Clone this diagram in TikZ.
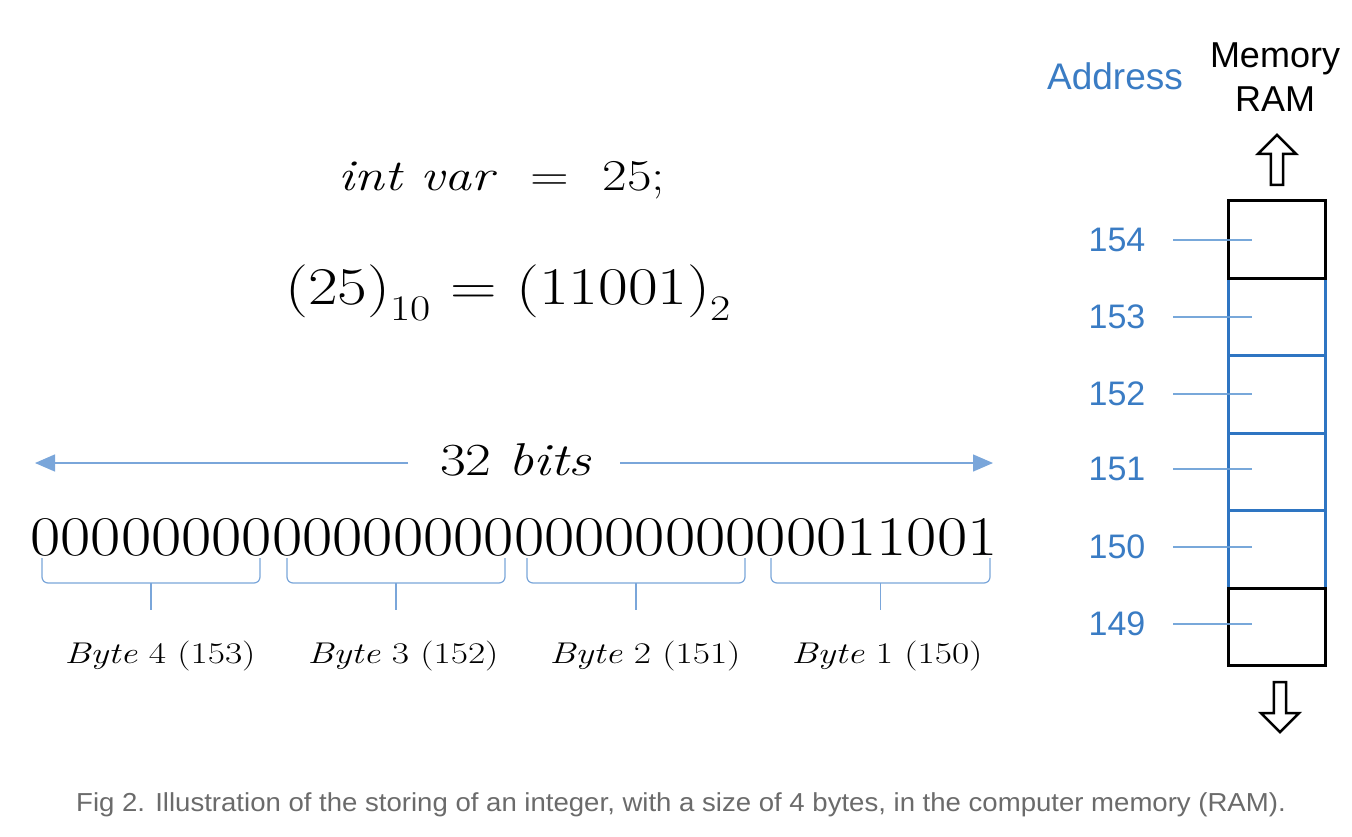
\documentclass[tikz,border=0pt]{standalone}
\usepackage{fontspec}
\setsansfont{Liberation Sans}
\usetikzlibrary{arrows.meta,shapes.arrows}
\definecolor{addrblue}{HTML}{3A7CC4}
\definecolor{tickblue}{HTML}{6A9FD6}
\definecolor{cellblue}{HTML}{2E75C2}
\definecolor{lightblue}{HTML}{7AA6DA}
\definecolor{capgray}{HTML}{6B6B6B}
\newcommand{\mysub}[1]{\raisebox{-0.3em}{\fontsize{36}{42}\selectfont #1}}
\newcommand{\wide}[1]{\scalebox{1.22}[1]{#1}}
\tikzset{
  addr/.style={text=addrblue,font=\sffamily\fontsize{34}{40}\selectfont,inner sep=0pt},
  hdr/.style={font=\sffamily\fontsize{36}{42}\selectfont,inner sep=0pt,align=center},
  tickline/.style={draw=tickblue,line width=2.2pt,opacity=0.9},
  bluecell/.style={draw=cellblue,line width=3pt,minimum width=97pt,minimum height=77.5pt,inner sep=0pt},
  blackcell/.style={draw=black,line width=3pt,minimum width=97pt,minimum height=77.5pt,inner sep=0pt},
  brc/.style={draw=lightblue,line width=1.2pt,rounded corners=6pt},
  bitsarrow/.style={draw=lightblue,line width=1.3pt,-{Triangle[length=20pt,width=17pt]}},
  hollow/.style={single arrow,draw=black,fill=white,line width=2.5pt,minimum height=50pt,minimum width=38pt,single arrow head extend=9pt,single arrow tip angle=90,inner sep=3pt},
  mathtxt/.style={inner sep=0pt}
}
\begin{document}
\begin{tikzpicture}[x=1pt,y=-1pt]
\useasboundingbox (0,0) rectangle (1352,836);
\fill[white] (0,0) rectangle (1352,836);

% headers
\node[addr,font=\sffamily\fontsize{37}{42}\selectfont] (addrhdr) at (1115,76) {Address};
\node[hdr] (memhdr) at (1275,77) {Memory\\[2pt]RAM};

% memory cells
\node[bluecell] (m153) at (1276.5,317) {};
\node[bluecell] (m152) at (1276.5,394.5) {};
\node[bluecell] (m151) at (1276.5,472) {};
\node[bluecell] (m150) at (1276.5,549.5) {};
\node[blackcell] (m154) at (1276.5,239.5) {};
\node[blackcell] (m149) at (1276.5,627) {};

% hollow arrows
\node[hollow,rotate=90] (up) at (1277,163) {};
\node[hollow,rotate=-90] (down) at (1280,704) {};

% address labels and ticks
\foreach \a/\y in {154/240,153/317,152/394,151/469,150/547,149/624}{
  \node[addr] (a\a) at (1117,\y) {\a};
  \coordinate (t\a) at (1173,\y);
  \draw[tickline,shorten >=24.5pt] (t\a) -- (m\a.center |- t\a);
}

% equations
\node[mathtxt] (decl) at (502,180) {\wide{\fontsize{44}{52}\selectfont \textit{int var}\hspace{0.62em}=\hspace{0.62em}25;}};
\node[mathtxt] (conv) at (508,293) {\wide{\fontsize{53}{62}\selectfont (25)\mysub{10} = (11001)\mysub{2}}};

% 32 bits
\node[mathtxt] (bits) at (516,460) {\wide{\fontsize{46}{54}\selectfont 32\hspace{0.3em}\textit{bits}}};
\coordinate (lstart) at (408,463);
\coordinate (lend) at (35,463);
\coordinate (rstart) at (620,463);
\coordinate (rend) at (993,463);
\draw[bitsarrow] (lstart) -- (lend);
\draw[bitsarrow] (rstart) -- (rend);

% binary string
\node[mathtxt,anchor=base] (binary) at (514,555) {\scalebox{1.176}[1]{\fontsize{56}{66}\selectfont 00000000000000000000000000011001}};

% braces
\foreach \xa/\xb in {42/260,287/505,527/745,771/990}{
  \draw[brc] (\xa,558) -- (\xa,583) -- (\xb,583) -- (\xb,558);
  \draw[draw=lightblue,line width=1.2pt] ({(\xa+\xb)/2},583) -- ({(\xa+\xb)/2},610);
}

% byte labels
\node[mathtxt] (b4) at (160,656) {\scalebox{1.25}[1]{\fontsize{30}{36}\selectfont \textit{Byte} 4 (153)}};
\node[mathtxt] (b3) at (403,656) {\scalebox{1.25}[1]{\fontsize{30}{36}\selectfont \textit{Byte} 3 (152)}};
\node[mathtxt] (b2) at (645,656) {\scalebox{1.25}[1]{\fontsize{30}{36}\selectfont \textit{Byte} 2 (151)}};
\node[mathtxt] (b1) at (887,656) {\scalebox{1.25}[1]{\fontsize{30}{36}\selectfont \textit{Byte} 1 (150)}};

% caption
\node[inner sep=0pt,text=capgray] (cap) at (681,805) {\scalebox{1.06}[1]{\sffamily\fontsize{26}{31}\selectfont Fig 2. Illustration of the storing of an integer, with a size of 4 bytes, in the computer memory (RAM).}};
\end{tikzpicture}
\end{document}
